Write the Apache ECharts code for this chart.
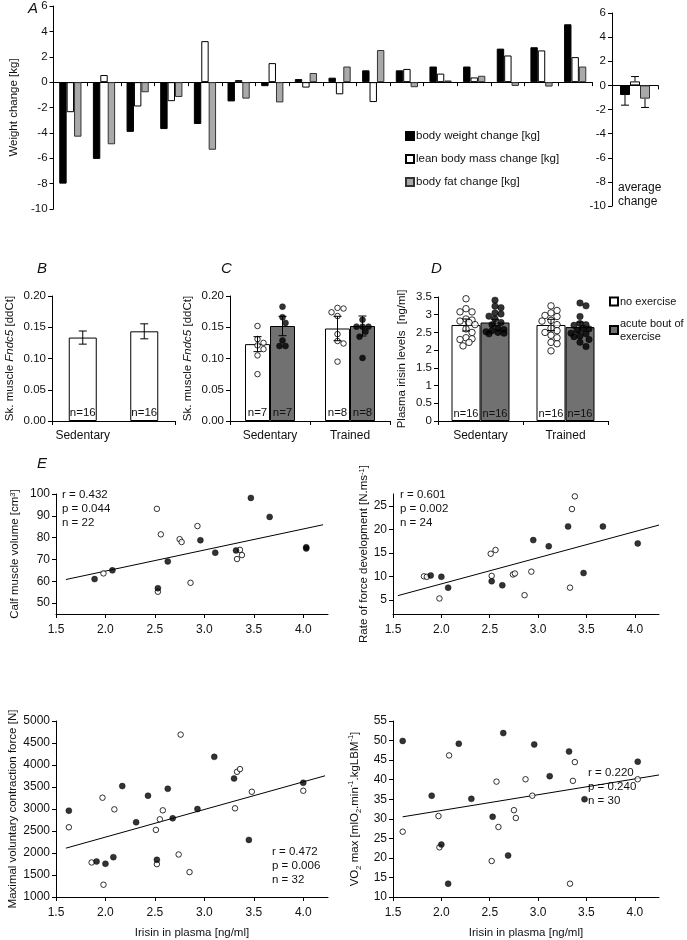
<!DOCTYPE html>
<html><head><meta charset="utf-8">
<script src="https://cdn.jsdelivr.net/npm/echarts@6/dist/echarts.min.js"></script>
<style>html,body{margin:0;padding:0;background:#fff}#c{width:687px;height:940px}</style>
</head><body><div id="c"></div>
<script>
// ---------------- DATA ----------------
// Panel A: individual weight changes (16 subjects, sorted)
const subjectsA = ['1','2','3','4','5','6','7','8','9','10','11','12','13','14','15','16'];
const bodyWeight = [-8.0,-6.05,-3.92,-3.7,-3.3,-1.52,-0.32,0.24,0.35,0.93,0.93,1.23,1.23,2.64,2.75,4.56];
const leanMass   = [-2.37,0.56,-1.92,-1.5,3.23,0.16,1.5,-0.43,-0.96,-1.57,1.04,0.67,0.37,2.1,2.5,1.97];
const bodyFat    = [-4.3,-4.9,-0.8,-1.17,-5.33,-1.3,-1.6,0.72,1.23,2.53,-0.4,0.13,0.5,-0.3,-0.35,1.23];
const avgMean = [-0.8, 0.33, -1.1];
const avgErr  = [0.84, 0.4, 0.73];
const seriesNamesA = ['body weight change [kg]','lean body mass change [kg]','body fat change [kg]'];

// Panel B
const groups = ['Sedentary','Trained'];
const bMean = [0.1335, 0.1435];
const bErr  = [0.0105, 0.012];
const bN    = [16, 16];

// Panel C
const cNoExMean = [0.123, 0.148];
const cNoExErr  = [0.012, 0.0195];
const cExMean   = [0.152, 0.152];
const cExErr    = [0.0155, 0.016];
const cNoExN = [7, 8];
const cExN   = [7, 8];
const cSedNoEx = [0.152,0.131,0.125,0.121,0.115,0.105,0.075];
const cSedEx   = [0.202,0.183,0.166,0.157,0.129,0.120,0.120];
const cTrNoEx  = [0.181,0.180,0.174,0.168,0.139,0.128,0.124,0.095];
const cTrEx    = [0.202,0.162,0.151,0.151,0.151,0.143,0.135,0.101];

// Panel D
const dNoExMean = [2.71, 2.71];
const dNoExErr  = [0.17, 0.16];
const dExMean   = [2.78, 2.65];
const dExErr    = [0.09, 0.14];
const dNoExN = [16, 16];
const dExN   = [16, 16];
const dSedNoEx = [3.45,3.17,3.08,3.08,2.88,2.85,2.82,2.78,2.72,2.6,2.5,2.35,2.32,2.3,2.22,2.12];
const dSedEx   = [3.41,3.24,3.2,3.05,3.02,2.96,2.88,2.78,2.72,2.62,2.58,2.55,2.52,2.5,2.48,2.46];
const dTrNoEx  = [3.25,3.12,3.05,2.98,2.95,2.84,2.82,2.72,2.62,2.55,2.5,2.42,2.35,2.22,2.18,1.98];
const dTrEx    = [3.33,3.25,2.95,2.75,2.72,2.7,2.62,2.6,2.56,2.48,2.46,2.4,2.38,2.3,2.22,2.1];

// Panel E: [irisin, outcome]
const calfFilled = [[1.89,61.0],[2.07,65.0],[2.53,56.8],[2.63,69.1],[2.96,78.8],[3.11,73.1],[3.32,74.1],[3.47,98.2],[3.66,89.5],[4.03,75.6],[4.03,75.0]];
const calfOpen   = [[1.98,63.6],[2.52,93.2],[2.56,81.5],[2.53,55.2],[2.75,79.3],[2.77,78.0],[2.93,85.3],[2.86,59.3],[3.36,74.4],[3.38,72.0],[3.33,70.2]];
const calfFit    = [[1.6,60.8],[4.2,85.9]];
const rfdFilled  = [[1.89,10.2],[2.0,9.9],[2.07,7.6],[2.52,8.95],[2.63,8.1],[2.95,17.7],[3.11,16.4],[3.31,20.6],[3.47,10.7],[3.67,20.6],[4.03,17.0]];
const rfdOpen    = [[1.82,10.0],[1.85,9.9],[1.98,5.3],[2.51,14.8],[2.56,15.6],[2.52,10.1],[2.74,10.4],[2.76,10.6],[2.93,11.0],[2.86,6.0],[3.33,7.6],[3.35,24.3],[3.38,27.0]];
const rfdFit     = [[1.55,5.9],[4.25,20.9]];
const mvcFilled  = [[1.63,2962],[2.17,3521],[1.91,1808],[2.0,1755],[2.08,1906],[2.31,2698],[2.43,3302],[2.63,3460],[2.68,2789],[2.52,1845],[2.93,3000],[3.1,4185],[3.3,3694],[3.45,2298],[4.0,3596]];
const mvcOpen    = [[1.63,2585],[1.97,3257],[2.09,2992],[1.86,1785],[1.98,1279],[2.58,2970],[2.55,2766],[2.51,2525],[2.52,1747],[2.74,1966],[2.85,1566],[2.76,4690],[3.33,3845],[3.36,3906],[3.31,3015],[3.48,3392],[4.0,3415]];
const mvcFit     = [[1.6,2110],[4.22,3755]];
const vo2Filled  = [[1.6,49.9],[2.64,51.9],[2.18,49.2],[2.96,49.0],[3.32,47.2],[4.03,44.6],[3.12,40.9],[2.31,35.1],[1.90,35.9],[3.48,35.0],[2.53,30.5],[2.0,23.4],[2.69,20.6],[2.07,13.4]];
const vo2Open    = [[1.6,26.7],[2.08,46.2],[3.38,44.5],[4.03,40.1],[2.57,39.5],[2.87,40.1],[3.36,39.7],[2.94,35.9],[1.97,30.7],[2.75,32.2],[2.77,30.2],[2.59,27.9],[1.98,22.7],[2.52,19.2],[3.33,13.4]];
const vo2Fit     = [[1.6,30.5],[4.25,41.2]];
const irisinTicks = [1.5,2.0,2.5,3.0,3.5,4.0];
const calfTicks = [50,60,70,80,90,100];
const rfdTicks = [5,10,15,20,25];
const statsText = ['r = 0.432\np = 0.044\nn = 22','r = 0.601\np = 0.002\nn = 24','r = 0.472\np = 0.006\nn = 32','r = 0.220\np = 0.240\nn = 30'];

// ---------------- STYLE / LAYOUT ----------------
const FONT = '"Liberation Sans", Arial, Helvetica, sans-serif';
const INK = '#111';
const GRAY_A = '#a9a9a9';
const GRAY_D = '#717171';

const G = {
  aL: {left:48, top:5, width:544, height:204},
  aR: {left:612, top:13, width:46, height:193},
  b:  {left:52, top:296, width:123, height:125},
  c:  {left:230, top:296, width:160, height:125},
  d:  {left:438, top:297, width:170, height:124},
  tl: {left:56, top:494, width:272, height:120},
  tr: {left:393, top:494, width:266, height:120},
  bl: {left:56, top:721, width:272, height:176},
  br: {left:393, top:721, width:266, height:176}
};
const gridKeys = ['aL','aR','b','c','d','tl','tr','bl','br'];
const grids = gridKeys.map(k => Object.assign({containLabel:false}, G[k]));

const axisLineS = {show:true, lineStyle:{color:'#000', width:1}};
const tickS = {show:true, length:4, lineStyle:{color:'#000', width:1}};
const lbl = (o) => Object.assign({color:INK, fontFamily:FONT, fontSize:11}, o||{});
const nameS = (o) => Object.assign({color:INK, fontFamily:FONT, fontSize:11.5}, o||{});

function catAxis(gi, data, showLabels) {
  return {type:'category', gridIndex:gi, data:data, axisLine:axisLineS,
    axisTick:Object.assign({}, tickS, {alignWithLabel:false}),
    axisLabel:lbl({show:!!showLabels, fontSize:12, margin:9}), splitLine:{show:false}};
}
function hiddenVal(gi, max) { return {type:'value', gridIndex:gi, min:0, max:max, show:false}; }
function valAxisX(gi, showName) {
  return {type:'value', gridIndex:gi, min:1.5, max:4.25, axisLine:axisLineS,
    axisTick:Object.assign({}, tickS, {customValues:irisinTicks}),
    axisLabel:lbl({fontSize:12, margin:10, customValues:irisinTicks, formatter:v=>v.toFixed(1)}),
    splitLine:{show:false},
    name: showName ? 'Irisin in plasma [ng/ml]' : '', nameLocation:'middle', nameGap:30, nameTextStyle:nameS()};
}
const richName = {
  i:{fontStyle:'italic', fontFamily:FONT, fontSize:11.5, color:INK},
  sup:{fontSize:7.5, fontFamily:FONT, color:INK, verticalAlign:'top', lineHeight:10},
  sub:{fontSize:7.5, fontFamily:FONT, color:INK, verticalAlign:'bottom', lineHeight:16}
};
function yAxis(gi, o, name, gap) {
  return Object.assign({type:'value', gridIndex:gi, axisLine:axisLineS, axisTick:tickS,
    axisLabel:lbl({fontSize:11.5, margin:6}), splitLine:{show:false},
    name:name, nameLocation:'middle', nameGap:gap, nameRotate:90,
    nameTextStyle:nameS({rich:richName})}, o);
}

const xAxes = [
  catAxis(0, subjectsA, false),          //0
  catAxis(1, ['avg'], false),            //1
  catAxis(2, groups, true),              //2
  catAxis(3, groups, true),              //3
  catAxis(4, groups, true),              //4
  hiddenVal(2, 2),                       //5
  hiddenVal(3, 2),                       //6
  hiddenVal(4, 2),                       //7
  valAxisX(5, false),                    //8
  valAxisX(6, false),                    //9
  valAxisX(7, true),                     //10
  valAxisX(8, true),                     //11
  hiddenVal(1, 1)                        //12
];
const yAxes = [
  yAxis(0, {min:-10, max:6, interval:2}, 'Weight change [kg]', 27),
  yAxis(1, {min:-10, max:6, interval:2}, '', 0),
  yAxis(2, {min:0, max:0.2, interval:0.05, axisLabel:lbl({fontSize:11.5, margin:6, formatter:v=>v.toFixed(2)})}, 'Sk. muscle {i|Fndc5} [ddCt]', 36),
  yAxis(3, {min:0, max:0.2, interval:0.05, axisLabel:lbl({fontSize:11.5, margin:6, formatter:v=>v.toFixed(2)})}, 'Sk. muscle {i|Fndc5} [ddCt]', 36),
  yAxis(4, {min:0, max:3.5, interval:0.5}, 'Plasma irisin levels  [ng/ml]', 30),
  yAxis(5, {min:45, max:100, axisTick:Object.assign({}, tickS, {customValues:calfTicks}), axisLabel:lbl({fontSize:12, margin:6, customValues:calfTicks})}, 'Calf muscle volume [cm{sup|3}]', 35),
  yAxis(6, {min:2, max:27.5, axisTick:Object.assign({}, tickS, {customValues:rfdTicks}), axisLabel:lbl({fontSize:12, margin:6, customValues:rfdTicks})}, 'Rate of force development [N.ms{sup|-1}]', 21),
  yAxis(7, {min:1000, max:5000, interval:500, axisLabel:lbl({fontSize:12, margin:6, formatter:v=>String(v)})}, 'Maximal voluntary contraction force [N]', 37),
  yAxis(8, {min:10, max:55, interval:5, axisLabel:lbl({fontSize:12, margin:6})}, 'VO{sub|2} max [mlO{sub|2}.min{sup|-1}.kgLBM{sup|-1}]', 30)
];

// ----- helpers -----
function swarm(vals, pxPerUnit, minDist, cap) {
  const placed = [], offs = new Array(vals.length);
  const order = vals.map((v,i)=>i).sort((a,b)=>vals[b]-vals[a]);
  const step = minDist*0.5;
  for (const i of order) {
    const y = vals[i]*pxPerUnit;
    let best = 0, bestD = -1;
    for (let k=0; k<40; k++) {
      const cand = k===0 ? 0 : ((k%2)?1:-1)*Math.ceil(k/2)*step;
      if (Math.abs(cand) > cap) break;
      const d = placed.length ? Math.min.apply(null, placed.map(p => Math.hypot(p.x-cand, p.y-y))) : 1e9;
      if (d >= minDist) { best = cand; bestD = d; break; }
      if (d > bestD) { bestD = d; best = cand; }
    }
    placed.push({x:best, y:y}); offs[i] = best;
  }
  return offs;
}
function dotData(vals, catIdx, barOffsetPx, catPx, pxPerUnit, minDist) {
  const offs = swarm(vals, pxPerUnit, minDist, 11);
  return vals.map((v,i) => [catIdx + 0.5 + (barOffsetPx + offs[i])/catPx, v]);
}
function errSeries(xi, yi, data, oneSided) {
  return {type:'custom', xAxisIndex:xi, yAxisIndex:yi, z:6, silent:true, data:data,
    renderItem:function(params, api){
      const x = api.value(0), m = api.value(1), e = api.value(2);
      let lo = m - e, hi = m + e;
      if (oneSided) { if (m < 0) hi = m; else lo = m; }
      const pLo = api.coord([x, lo]), pHi = api.coord([x, hi]);
      const cw = 4;
      const st = {stroke:'#000', lineWidth:1};
      const ch = [{type:'line', shape:{x1:pLo[0], y1:pLo[1], x2:pHi[0], y2:pHi[1]}, style:st}];
      if (!oneSided || m >= 0) ch.push({type:'line', shape:{x1:pHi[0]-cw, y1:pHi[1], x2:pHi[0]+cw, y2:pHi[1]}, style:st});
      if (!oneSided || m < 0) ch.push({type:'line', shape:{x1:pLo[0]-cw, y1:pLo[1], x2:pLo[0]+cw, y2:pLo[1]}, style:st});
      return {type:'group', children:ch};
    }};
}
const nLabel = (arr, size) => ({show:true, position:'insideBottom', distance:2, color:INK, fontFamily:FONT, fontSize:size||12, formatter:p => 'n=' + arr[p.dataIndex]});

const styleA = [
  {color:'#000', borderColor:'#000', borderWidth:1},
  {color:'#fff', borderColor:'#000', borderWidth:1},
  {color:GRAY_A, borderColor:'#333', borderWidth:1}
];
const valsA = [bodyWeight, leanMass, bodyFat];

const series = [];
// A-left
valsA.forEach((v,k) => series.push({type:'bar', name:seriesNamesA[k], xAxisIndex:0, yAxisIndex:0, data:v,
  barGap:'0%', barCategoryGap:'34%', itemStyle:styleA[k], silent:true}));
// A-right
avgMean.forEach((m,k) => series.push({type:'bar', name:seriesNamesA[k], xAxisIndex:1, yAxisIndex:1, data:[m],
  barWidth:10, barGap:'0%', itemStyle:styleA[k], silent:true}));
series.push(errSeries(12, 1, avgMean.map((m,k)=>[0.5 + (k-1)*10/46, m, avgErr[k]]), true));

// B
series.push({type:'bar', name:'trainingB', xAxisIndex:2, yAxisIndex:2, data:bMean, barWidth:28,
  itemStyle:{color:'#fff', borderColor:'#000', borderWidth:1}, label:nLabel(bN, 11.5), silent:true});
series.push(errSeries(5, 2, bMean.map((m,i)=>[i+0.5, m, bErr[i]]), false));

// C
const cCat = G.c.width/2, cPx = G.c.height/0.2, cBW = 25;
series.push({type:'bar', name:'no exercise', xAxisIndex:3, yAxisIndex:3, data:cNoExMean, barWidth:cBW, barGap:'0%',
  itemStyle:{color:'#fff', borderColor:'#000', borderWidth:1}, label:nLabel(cNoExN, 11.5), silent:true});
series.push({type:'bar', name:'acute bout of exercise', xAxisIndex:3, yAxisIndex:3, data:cExMean, barWidth:cBW, barGap:'0%',
  itemStyle:{color:GRAY_D, borderColor:'#000', borderWidth:1}, label:nLabel(cExN, 11.5), silent:true});
const openSym = {type:'scatter', symbol:'circle', symbolSize:5.5, itemStyle:{color:'#fff', borderColor:'#000', borderWidth:1}, z:4, silent:true};
const fillSym = {type:'scatter', symbol:'circle', symbolSize:6, itemStyle:{color:'#000', borderColor:'#000', borderWidth:0.5}, z:4, silent:true};
series.push(Object.assign({}, openSym, {xAxisIndex:6, yAxisIndex:3, data:dotData(cSedNoEx,0,-cBW/2,cCat,cPx,6).concat(dotData(cTrNoEx,1,-cBW/2,cCat,cPx,6))}));
series.push(Object.assign({}, fillSym, {xAxisIndex:6, yAxisIndex:3, data:dotData(cSedEx,0,cBW/2,cCat,cPx,6).concat(dotData(cTrEx,1,cBW/2,cCat,cPx,6))}));
series.push(errSeries(6, 3, cNoExMean.map((m,i)=>[i+0.5-cBW/2/cCat, m, cNoExErr[i]]).concat(cExMean.map((m,i)=>[i+0.5+cBW/2/cCat, m, cExErr[i]])), false));

// D
const dCat = G.d.width/2, dPx = G.d.height/3.5, dBW = 29;
series.push({type:'bar', name:'no exercise', xAxisIndex:4, yAxisIndex:4, data:dNoExMean, barWidth:dBW, barGap:'0%',
  itemStyle:{color:'#fff', borderColor:'#000', borderWidth:1}, label:nLabel(dNoExN, 11), silent:true});
series.push({type:'bar', name:'acute bout of exercise', xAxisIndex:4, yAxisIndex:4, data:dExMean, barWidth:dBW, barGap:'0%',
  itemStyle:{color:GRAY_D, borderColor:'#000', borderWidth:1}, label:nLabel(dExN, 11), silent:true});
series.push(Object.assign({}, openSym, {symbolSize:6.5, xAxisIndex:7, yAxisIndex:4, data:dotData(dSedNoEx,0,-dBW/2,dCat,dPx,6).concat(dotData(dTrNoEx,1,-dBW/2,dCat,dPx,6))}));
series.push(Object.assign({}, fillSym, {symbolSize:6.5, xAxisIndex:7, yAxisIndex:4, data:dotData(dSedEx,0,dBW/2,dCat,dPx,6).concat(dotData(dTrEx,1,dBW/2,dCat,dPx,6))}));
series.push(errSeries(7, 4, dNoExMean.map((m,i)=>[i+0.5-dBW/2/dCat, m, dNoExErr[i]]).concat(dExMean.map((m,i)=>[i+0.5+dBW/2/dCat, m, dExErr[i]])), false));

// E
const eSets = [[calfOpen, calfFilled, calfFit],[rfdOpen, rfdFilled, rfdFit],[mvcOpen, mvcFilled, mvcFit],[vo2Open, vo2Filled, vo2Fit]];
eSets.forEach((s,k) => {
  const xi = 8+k, yi = 5+k;
  series.push({type:'line', xAxisIndex:xi, yAxisIndex:yi, data:s[2], showSymbol:false, symbol:'none', lineStyle:{color:'#000', width:1}, z:3, silent:true});
  series.push(Object.assign({}, openSym, {xAxisIndex:xi, yAxisIndex:yi, data:s[0]}));
  series.push(Object.assign({}, fillSym, {xAxisIndex:xi, yAxisIndex:yi, data:s[1]}));
});

// text graphics
const letter = (t,x,y) => ({type:'text', left:x, top:y, style:{text:t, fontFamily:FONT, fontStyle:'italic', fontSize:15, fill:INK}});
const stat = (t,x,y) => ({type:'text', left:x, top:y, style:{text:t, fontFamily:FONT, fontSize:11.5, lineHeight:14, fill:INK}});
const graphic = [
  letter('A',28,1), letter('B',37,261), letter('C',221,261), letter('D',431,261), letter('E',37,456),
  {type:'text', left:618, top:181, style:{text:'average\nchange', fontFamily:FONT, fontSize:12, lineHeight:14, fill:INK, align:'center'}},
  stat(statsText[0],62,488), stat(statsText[1],400,488), stat(statsText[2],272,845), stat(statsText[3],588,766)
];

const chart = echarts.init(document.getElementById('c'), null, {renderer:'canvas'});
chart.setOption({
  animation:false,
  backgroundColor:'#fff',
  grid:grids, xAxis:xAxes, yAxis:yAxes, series:series, graphic:graphic,
  legend:[
    {data:seriesNamesA, left:400, top:125, orient:'vertical', itemWidth:8, itemHeight:8, itemGap:11, icon:'rect', selectedMode:false,
     textStyle:{fontFamily:FONT, fontSize:11.5, color:INK, padding:[0,0,0,-3]}},
    {data:['no exercise','acute bout of exercise'], left:604, top:290, orient:'vertical', itemWidth:8, itemHeight:8, itemGap:9, icon:'rect', selectedMode:false,
     formatter:n => n==='acute bout of exercise' ? 'acute bout of\nexercise' : n,
     textStyle:{fontFamily:FONT, fontSize:11, color:INK, lineHeight:13, padding:[0,0,0,-3]}}
  ]
});
</script></body></html>
